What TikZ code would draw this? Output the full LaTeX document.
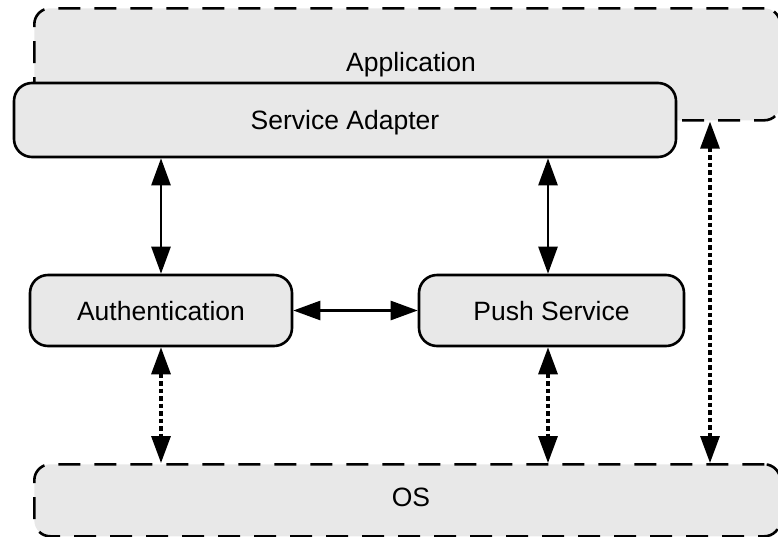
\documentclass[tikz,border=0pt]{standalone}
\usepackage{fontspec}
\setmainfont{Liberation Sans}
\usetikzlibrary{arrows.meta}
\definecolor{boxfill}{HTML}{E8E8E8}
\begin{document}
\begin{tikzpicture}[x=1pt,y=-1pt,
  solidbox/.style={draw=black, line width=2.6pt, fill=boxfill, rounded corners=18pt, inner sep=0pt, text depth=0pt, font=\fontsize{26.5}{30}\selectfont},
  dashbox/.style={draw=black, line width=2.6pt, fill=boxfill, rounded corners=16pt, dash pattern=on 22pt off 14pt, inner sep=0pt},
  lbl/.style={font=\fontsize{26.5}{30}\selectfont, inner sep=0pt, text depth=0pt},
  biarrow/.style={line width=2.6pt, {Triangle[length=27pt,width=19pt]}-{Triangle[length=27pt,width=19pt]}},
  dotarrow/.style={biarrow, line width=3.2pt, dash pattern=on 4.5pt off 3pt}]
\useasboundingbox (0,0) rectangle (778,536);
\begin{scope}
\clip (0,0) rectangle (778,536);
\node[dashbox, minimum width=746pt, minimum height=112pt, anchor=north west] (app) at (33,7) {};
\node[dashbox, minimum width=746pt, minimum height=72pt, anchor=north west] (os) at (33,463) {};
\end{scope}
\node[lbl] (applbl) at (411,62) {Application};
\node[lbl] (oslbl) at (411,497) {OS};
\node[solidbox, minimum width=662pt, minimum height=74pt] (sa) at (345,120) {Service Adapter};
\node[solidbox, minimum width=262pt, minimum height=71pt] (auth) at (161,310.5) {Authentication};
\node[solidbox, minimum width=265pt, minimum height=71pt] (push) at (551.5,310.5) {Push Service};
\coordinate (px) at (548,0);
\coordinate (rx) at (710,0);
\draw[biarrow] (auth.north |- sa.south) -- (auth.north);
\draw[biarrow] (px |- sa.south) -- (px |- push.north);
\draw[biarrow] (auth.east) -- (push.west);
\draw[dotarrow] (auth.south) -- (auth.south |- os.north);
\draw[dotarrow] (px |- push.south) -- (px |- os.north);
\draw[dotarrow] (rx |- app.south) -- (rx |- os.north);
\end{tikzpicture}
\end{document}
